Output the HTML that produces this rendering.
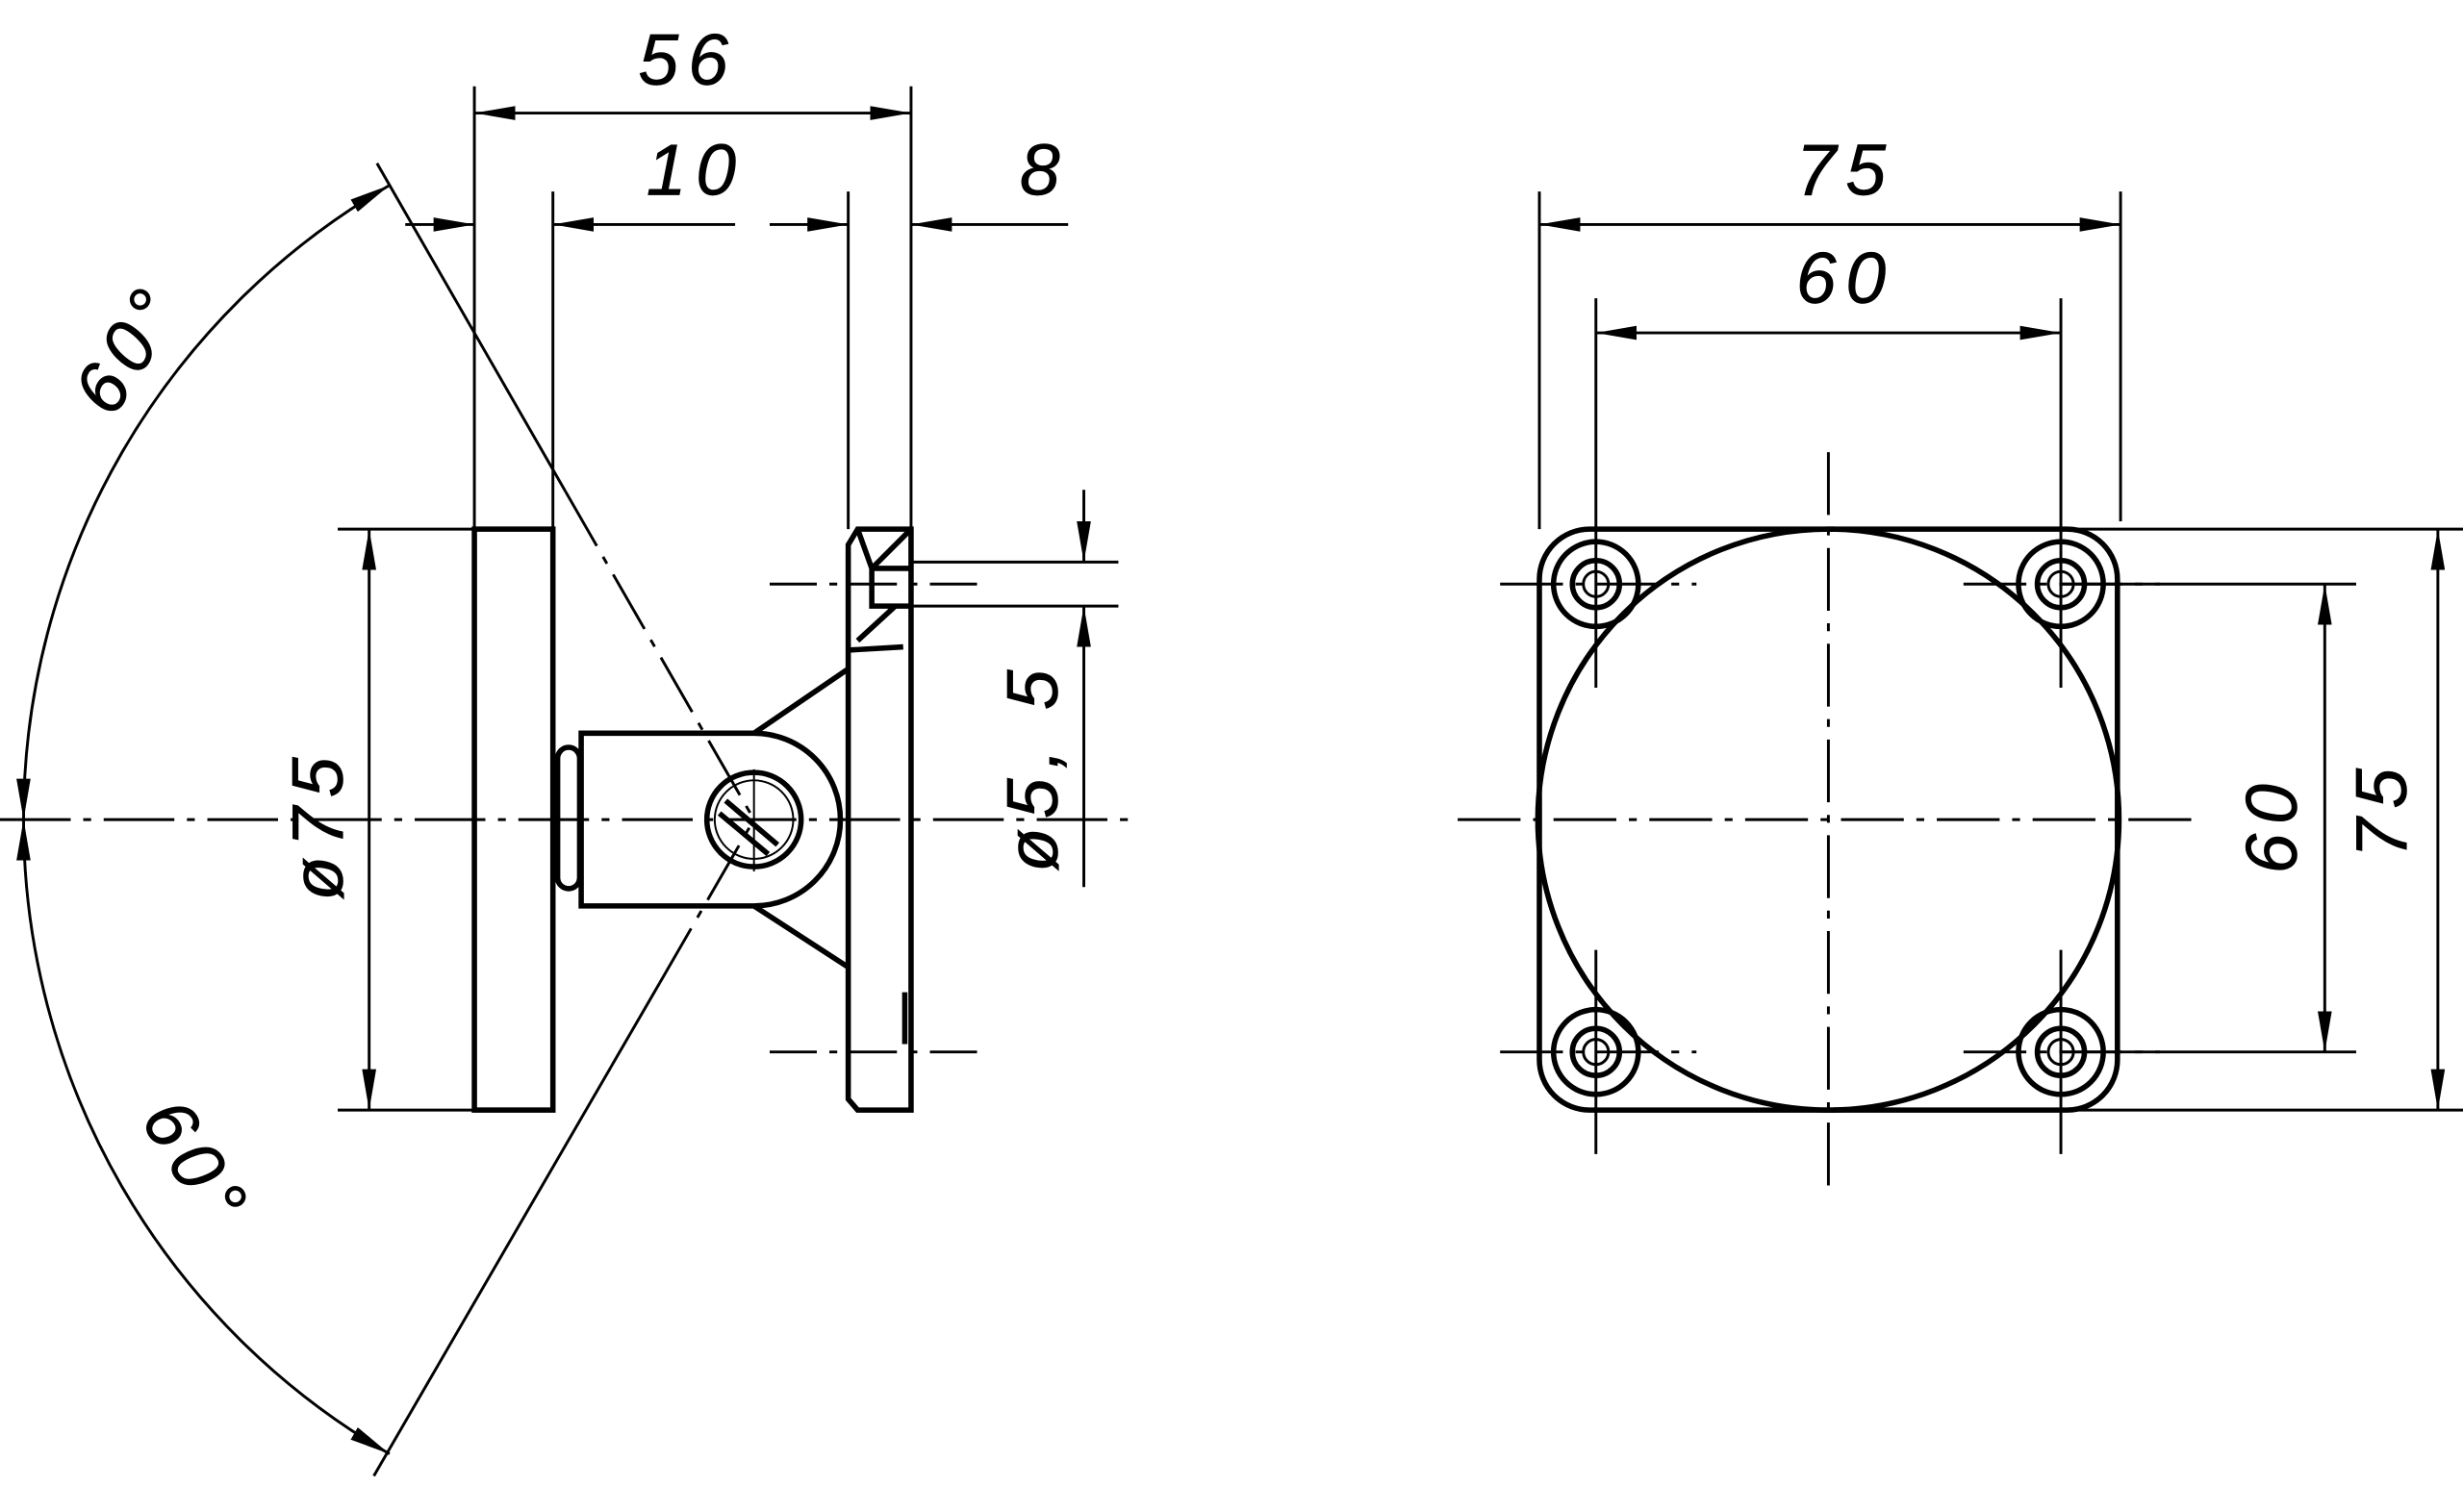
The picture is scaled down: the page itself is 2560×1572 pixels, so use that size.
<!DOCTYPE html>
<html><head><meta charset="utf-8"><style>
html,body{margin:0;padding:0;background:#fff;}
svg{display:block;}
text{font-family:"Liberation Sans",sans-serif;font-style:italic;font-size:46px;fill:#000;letter-spacing:6px;stroke:#000;stroke-width:0.4;}
</style></head><body>
<svg width="2560" height="1572" viewBox="0 0 1568 963" preserveAspectRatio="none" xmlns="http://www.w3.org/2000/svg">
<defs>
<marker id="a" viewBox="0 0 26 9" refX="26" refY="4.5" markerWidth="26" markerHeight="9" markerUnits="userSpaceOnUse" orient="auto-start-reverse">
<path d="M0,0 L26,4.5 L0,9 Z" fill="#000"/></marker>
</defs>
<g stroke="#000" fill="none" stroke-width="1.8">
<line x1="302" y1="55" x2="302" y2="337"/>
<line x1="580" y1="55" x2="580" y2="337"/>
<line x1="352" y1="122" x2="352" y2="337"/>
<line x1="540" y1="122" x2="540" y2="337"/>
<line x1="302" y1="72" x2="580" y2="72" marker-start="url(#a)" marker-end="url(#a)"/>
<line x1="258" y1="143" x2="302" y2="143" marker-end="url(#a)"/>
<line x1="468" y1="143" x2="352" y2="143" marker-end="url(#a)"/>
<line x1="490" y1="143" x2="540" y2="143" marker-end="url(#a)"/>
<line x1="680" y1="143" x2="580" y2="143" marker-end="url(#a)"/>
<line x1="215" y1="337" x2="302" y2="337"/>
<line x1="215" y1="707" x2="302" y2="707"/>
<line x1="235" y1="337" x2="235" y2="707" marker-start="url(#a)" marker-end="url(#a)"/>
<line x1="580" y1="358" x2="712" y2="358"/>
<line x1="580" y1="386" x2="712" y2="386"/>
<line x1="690" y1="312" x2="690" y2="358" marker-end="url(#a)"/>
<line x1="690" y1="565" x2="690" y2="386" marker-end="url(#a)"/>
<line x1="0" y1="522" x2="720" y2="522" stroke-dasharray="45 8 5 8"/>
<line x1="490" y1="372" x2="625" y2="372" stroke-dasharray="30 8 5 8"/>
<line x1="490" y1="670" x2="625" y2="670" stroke-dasharray="30 8 5 8"/>
<line x1="240" y1="104" x2="360" y2="313"/>
<line x1="360" y1="313" x2="480" y2="522" stroke-dasharray="40 8 5 8"/>
<line x1="238" y1="940" x2="420" y2="626"/>
<line x1="420" y1="626" x2="480" y2="522" stroke-dasharray="40 8 5 8"/>
<path d="M15,522 A466,466 0 0 1 248,118" marker-start="url(#a)" marker-end="url(#a)"/>
<path d="M15,522 A466,466 0 0 0 248,926" marker-start="url(#a)" marker-end="url(#a)"/>
</g>
<g stroke="#000" fill="none" stroke-width="3.4">
<rect x="302" y="337" width="50" height="370"/>
<path d="M480,467 L370,467 L370,577 L480,577 A55,55 0 0 0 480,467"/>
<rect x="355" y="476" width="14" height="90" rx="7"/>
<line x1="480" y1="467" x2="540" y2="426"/>
<line x1="480" y1="577" x2="540" y2="616"/>
<circle cx="480" cy="522" r="30"/>
<line x1="462" y1="510" x2="495" y2="538"/>
<line x1="458" y1="518" x2="489" y2="544"/>
<path d="M540,347 L546,337 L580,337 L580,707 L546,707 L540,700 Z"/>
<path d="M546,337 L555,362 L580,337 M555,362 L555,386 L580,386 M555,362 L580,362 M546,408 L570,386 M541,414 L575,412"/>
<line x1="576" y1="632" x2="576" y2="665"/>
</g>
<g stroke="#000" fill="none" stroke-width="1.2">
<circle cx="480" cy="522" r="25"/>
<line x1="480" y1="490" x2="480" y2="555"/>
</g>
<g stroke="#000" fill="none" stroke-width="1.8">
<line x1="980" y1="122" x2="980" y2="337"/>
<line x1="1350" y1="122" x2="1350" y2="332"/>
<line x1="980" y1="143" x2="1350" y2="143" marker-start="url(#a)" marker-end="url(#a)"/>
<line x1="1016" y1="190" x2="1016" y2="438"/>
<line x1="1312" y1="190" x2="1312" y2="438"/>
<line x1="1016" y1="212" x2="1312" y2="212" marker-start="url(#a)" marker-end="url(#a)"/>
<line x1="1312" y1="372" x2="1500" y2="372"/>
<line x1="1312" y1="670" x2="1500" y2="670"/>
<line x1="1480" y1="372" x2="1480" y2="670" marker-start="url(#a)" marker-end="url(#a)"/>
<line x1="1320" y1="337" x2="1568" y2="337"/>
<line x1="1320" y1="707" x2="1568" y2="707"/>
<line x1="1552" y1="337" x2="1552" y2="707" marker-start="url(#a)" marker-end="url(#a)"/>
<line x1="1164" y1="288" x2="1164" y2="757" stroke-dasharray="40 8 5 8"/>
<line x1="928" y1="522" x2="1400" y2="522" stroke-dasharray="40 8 5 8"/>
<line x1="955" y1="372" x2="1080" y2="372" stroke-dasharray="40 8 5 8"/>
<line x1="1250" y1="372" x2="1375" y2="372" stroke-dasharray="40 8 5 8"/>
<line x1="955" y1="670" x2="1080" y2="670" stroke-dasharray="40 8 5 8"/>
<line x1="1250" y1="670" x2="1375" y2="670" stroke-dasharray="40 8 5 8"/>
<line x1="1016" y1="605" x2="1016" y2="735"/>
<line x1="1312" y1="605" x2="1312" y2="735"/>
<circle cx="1016" cy="372" r="8"/><circle cx="1312" cy="372" r="8"/>
<circle cx="1016" cy="670" r="8"/><circle cx="1312" cy="670" r="8"/>
</g>
<g stroke="#000" fill="none" stroke-width="3.4">
<rect x="980" y="337" width="368" height="370" rx="32"/>
<circle cx="1164" cy="522" r="185"/>
<circle cx="1016" cy="372" r="27"/><circle cx="1312" cy="372" r="27"/>
<circle cx="1016" cy="670" r="27"/><circle cx="1312" cy="670" r="27"/>
<circle cx="1016" cy="372" r="15"/><circle cx="1312" cy="372" r="15"/>
<circle cx="1016" cy="670" r="15"/><circle cx="1312" cy="670" r="15"/>
</g>
<text x="438" y="54" text-anchor="middle">56</text>
<text x="443" y="124" text-anchor="middle">10</text>
<text x="665" y="124" text-anchor="middle">8</text>
<text x="1175" y="124" text-anchor="middle">75</text>
<text x="1175" y="193" text-anchor="middle">60</text>
<text transform="translate(218,525) rotate(-90)" text-anchor="middle">ø75</text>
<text transform="translate(673,488) rotate(-90)" text-anchor="middle">ø5, 5</text>
<text transform="translate(1462,525) rotate(-90)" text-anchor="middle">60</text>
<text transform="translate(1532,515) rotate(-90)" text-anchor="middle">75</text>
<text transform="translate(95,230) rotate(-58)" text-anchor="middle">60°</text>
<text transform="translate(112,750) rotate(58)" text-anchor="middle">60°</text>
</svg>
</body></html>
